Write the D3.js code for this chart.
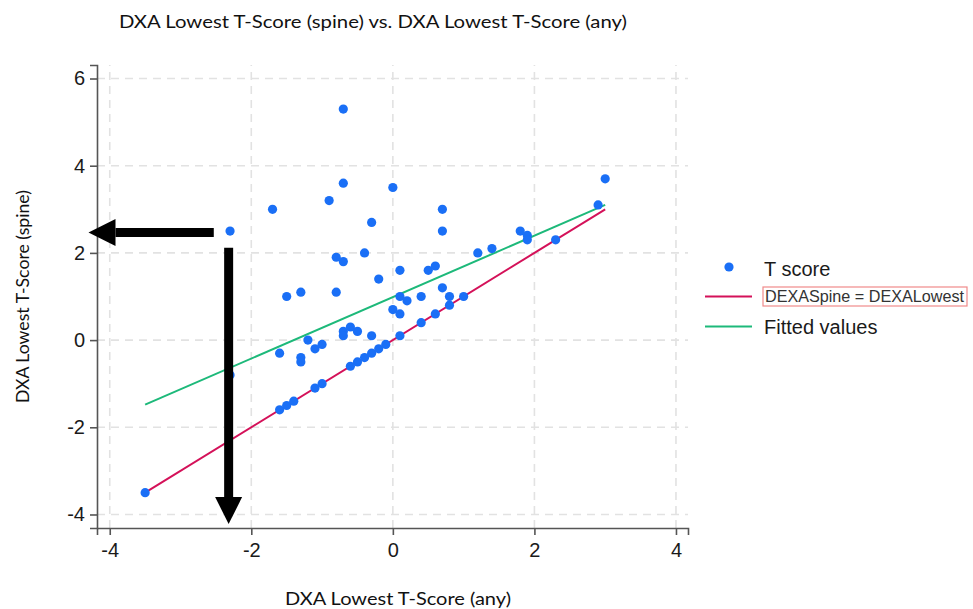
<!DOCTYPE html>
<html>
<head>
<meta charset="utf-8">
<script src="https://cdn.jsdelivr.net/npm/d3@7"></script>
<style>
  body { margin: 0; background: #fff; }
  svg { display: block; }
</style>
</head>
<body>
<script>
window.addEventListener('load', () => {

    // T-scores: lowest (any site) vs lowest (spine)
    let anyScore   = [-0.7, -0.7, 0.0, -0.9, -1.7, -0.3, -2.3, -0.8, -0.7, -0.4,
                       0.1, -0.2, -1.5, -1.3, -0.8, 0.1, 0.0, 3.0, 2.9, 0.7,
                       0.7, 1.8, 1.9, 1.9, 2.3, 1.2, 1.4, 0.5, 0.6, 0.7,
                       0.2, 0.4, 0.8, 1.0, 0.8, -3.5, -2.3, -1.6, -1.3, -1.3,
                      -1.2, -1.1, -1.0, -0.7, -0.7, -0.6, -0.5, -0.3, 0.1, -1.6,
                      -1.5, -1.4, -1.1, -1.0, -0.6, -0.5, -0.4, -0.3, -0.2, -0.1,
                       0.1, 0.4, 0.6];
    let spineScore = [5.3, 3.6, 3.5, 3.2, 3.0, 2.7, 2.5, 1.9, 1.8, 2.0,
                      1.6, 1.4, 1.0, 1.1, 1.1, 1.0, 0.7, 3.7, 3.1, 3.0,
                      2.5, 2.5, 2.4, 2.3, 2.3, 2.0, 2.1, 1.6, 1.7, 1.2,
                      0.9, 1.0, 1.0, 1.0, 0.8, -3.5, -0.8, -0.3, -0.4, -0.5,
                      0.0, -0.2, -0.1, 0.2, 0.1, 0.3, 0.2, 0.1, 0.6, -1.6,
                     -1.5, -1.4, -1.1, -1.0, -0.6, -0.5, -0.4, -0.3, -0.2, -0.1,
                      0.1, 0.4, 0.6];

    // reference line (spine = lowest) and fitted values, end points
    let equalX = [-3.5, 3.0];
    let equalY = [-3.5, 3.0];
    let fitX = [-3.5, 3.0];
    let fitY = [-1.48, 3.10];

    let xTicks = [-4, -2, 0, 2, 4];
    let yTicks = [-4, -2, 0, 2, 4, 6];

    // annotation arrows pointing at the (-2.3, 2.5) case, in data units
    let arrowFrom = [[-2.53, 2.47], [-2.32, 2.12]];
    let arrowTo   = [[-4.30, 2.47], [-2.32, -4.22]];

    let width = 973;
    let height = 609;

    let x = d3.scaleLinear().domain([-4.18, 4.17]).range([97, 688]);
    let y = d3.scaleLinear().domain([-4.31, 6.31]).range([528, 65]);

    let svg = d3.select('body')
        .append('svg')
        .attr('width', width)
        .attr('height', height);

    // grid
    svg.append('g').selectAll('line')
        .data(xTicks)
        .enter()
        .append('line')
        .attr('x1', d => x(d)).attr('x2', d => x(d))
        .attr('y1', y.range()[0]).attr('y2', y.range()[1])
        .attr('stroke', '#e2e2e2').attr('stroke-width', 1.6)
        .attr('stroke-dasharray', '8,6');

    svg.append('g').selectAll('line')
        .data(yTicks)
        .enter()
        .append('line')
        .attr('y1', d => y(d)).attr('y2', d => y(d))
        .attr('x1', x.range()[0]).attr('x2', x.range()[1])
        .attr('stroke', '#e2e2e2').attr('stroke-width', 1.6)
        .attr('stroke-dasharray', '8,6');

    // axes
    let xAxis = d3.axisBottom(x).tickValues(xTicks).tickSize(7).tickPadding(8)
        .tickFormat(d => d < 0 ? '-' + Math.abs(d) : d);
    let yAxis = d3.axisLeft(y).tickValues(yTicks).tickSize(7).tickPadding(5)
        .tickFormat(d => d < 0 ? '-' + Math.abs(d) : d);

    let gx = svg.append('g')
        .attr('transform', 'translate(0,' + y.range()[0] + ')')
        .call(xAxis);
    let gy = svg.append('g')
        .attr('transform', 'translate(' + x.range()[0] + ',0)')
        .call(yAxis);

    [gx, gy].forEach(g => {
        g.select('.domain').attr('stroke', '#555').attr('stroke-width', 1.6);
        g.selectAll('.tick line').attr('stroke', '#555').attr('stroke-width', 1.6);
        g.selectAll('.tick text')
            .attr('fill', '#1a1a1a')
            .style('font-family', '"Liberation Sans", Arial, sans-serif')
            .style('font-size', '20px');
    });

    // lines
    let line = d3.line().x(d => x(d[0])).y(d => y(d[1]));

    svg.append('path')
        .datum(d3.zip(equalX, equalY))
        .attr('d', line)
        .attr('fill', 'none')
        .attr('stroke', '#d41159')
        .attr('stroke-width', 2);

    svg.append('path')
        .datum(d3.zip(fitX, fitY))
        .attr('d', line)
        .attr('fill', 'none')
        .attr('stroke', '#1db97a')
        .attr('stroke-width', 2);

    // points
    svg.append('g').selectAll('circle')
        .data(d3.zip(anyScore, spineScore))
        .enter()
        .append('circle')
        .attr('cx', d => x(d[0]))
        .attr('cy', d => y(d[1]))
        .attr('r', 4.6)
        .attr('fill', '#1a6ff6');

    // arrows
    arrowFrom.forEach((a, i) => {
        let b = arrowTo[i];
        let x0 = x(a[0]), y0 = y(a[1]), x1 = x(b[0]), y1 = y(b[1]);
        let dx = x1 - x0, dy = y1 - y0;
        let len = Math.sqrt(dx * dx + dy * dy);
        let ux = dx / len, uy = dy / len;
        let head = 27, half = 13.5, shaft = 4.5;
        let bx = x1 - ux * head, by = y1 - uy * head;
        svg.append('line')
            .attr('x1', x0).attr('y1', y0)
            .attr('x2', bx).attr('y2', by)
            .attr('stroke', '#000')
            .attr('stroke-width', shaft * 2);
        svg.append('path')
            .attr('d', 'M' + x1 + ',' + y1 +
                ' L' + (bx - uy * half) + ',' + (by + ux * half) +
                ' L' + (bx + uy * half) + ',' + (by - ux * half) + ' Z')
            .attr('fill', '#000');
    });

    // legend
    let leg = svg.append('g').style('font-family', '"Liberation Sans", Arial, sans-serif');
    leg.append('circle').attr('cx', 729).attr('cy', 267).attr('r', 4.6).attr('fill', '#1a6ff6');
    leg.append('text').attr('x', 764).attr('y', 275.5).attr('font-size', 20).attr('fill', '#1a1a1a')
        .text('T score');
    leg.append('line').attr('x1', 705).attr('x2', 752).attr('y1', 296.5).attr('y2', 296.5)
        .attr('stroke', '#d41159').attr('stroke-width', 2);
    leg.append('rect').attr('x', 763).attr('y', 287).attr('width', 204).attr('height', 19)
        .attr('fill', 'none').attr('stroke', '#f08a8a').attr('stroke-width', 1.2);
    leg.append('text').attr('x', 765).attr('y', 302).attr('font-size', 17).attr('fill', '#333')
        .attr('textLength', 199).attr('lengthAdjust', 'spacingAndGlyphs')
        .text('DEXASpine = DEXALowest');
    leg.append('line').attr('x1', 705).attr('x2', 752).attr('y1', 326.5).attr('y2', 326.5)
        .attr('stroke', '#1db97a').attr('stroke-width', 2);
    leg.append('text').attr('x', 764).attr('y', 333.5).attr('font-size', 20).attr('fill', '#1a1a1a')
        .text('Fitted values');

    // titles
    let labelFont = 'Lato, "Open Sans", sans-serif';
    svg.append('text')
        .attr('x', 119).attr('y', 28)
        .style('font-family', labelFont).style('font-size', '17px')
        .attr('fill', '#111')
        .attr('textLength', 508).attr('lengthAdjust', 'spacingAndGlyphs')
        .text('DXA Lowest T-Score (spine) vs. DXA Lowest T-Score (any)');

    svg.append('text')
        .attr('x', 285).attr('y', 605)
        .style('font-family', labelFont).style('font-size', '17px')
        .attr('fill', '#111')
        .attr('textLength', 226).attr('lengthAdjust', 'spacingAndGlyphs')
        .text('DXA Lowest T-Score (any)');

    svg.append('text')
        .attr('transform', 'translate(29,403) rotate(-90)')
        .style('font-family', labelFont).style('font-size', '17px')
        .attr('fill', '#111')
        .attr('textLength', 213).attr('lengthAdjust', 'spacingAndGlyphs')
        .text('DXA Lowest T-Score (spine)');
});
</script>
</body>
</html>
